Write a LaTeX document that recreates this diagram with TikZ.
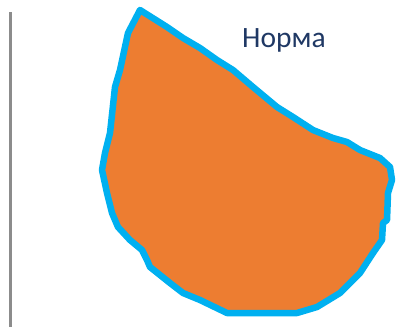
\documentclass[tikz,border=0pt]{standalone}
\usepackage{fontspec}
\setmainfont{Carlito}
\usepackage{tikz}
\usetikzlibrary{positioning}
\definecolor{blobfill}{HTML}{ED7D31}
\definecolor{blobedge}{HTML}{00B0F0}
\definecolor{labelblue}{HTML}{1F3864}
\definecolor{axisgray}{HTML}{8C8C8C}

\begin{document}
\begin{tikzpicture}[x=1pt, y=-1pt,
    blob/.style={fill=blobfill, draw=blobedge, line width=6.5pt, line join=round},
    axis/.style={draw=axisgray, line width=3pt},
    label/.style={text=labelblue, inner sep=0pt, font=\fontsize{29.5}{30}\selectfont}
]
\useasboundingbox (0,0) rectangle (401,327);
% vertical axis line
\coordinate (axtop) at (10,12);
\coordinate (axbot) at (10,327);
\draw[axis] (axtop) -- (axbot);
% the blob
\path[blob] (140,10) -- (167,27) -- (183,38) -- (200,48) -- (217,60) -- (233,70)
  -- (253,87) -- (277,107) -- (293,117) -- (313,130) -- (333,138) -- (347,142)
  -- (360,150) -- (380,158) -- (390,167) -- (392,180) -- (388,193) -- (387,220)
  -- (383,223) -- (382,240) -- (373,253) -- (360,273) -- (340,293) -- (317,307)
  -- (297,313) -- (227,313) -- (200,300) -- (183,293) -- (170,283) -- (150,267)
  -- (147,260) -- (142,250) -- (130,240) -- (118,227) -- (112,213) -- (107,193)
  -- (102,170) -- (105,153) -- (110,133) -- (115,87) -- (120,70) -- (128,33) -- cycle;
\node[label, anchor=base west] (norma) at (242,47) {Норма};
\end{tikzpicture}
\end{document}
